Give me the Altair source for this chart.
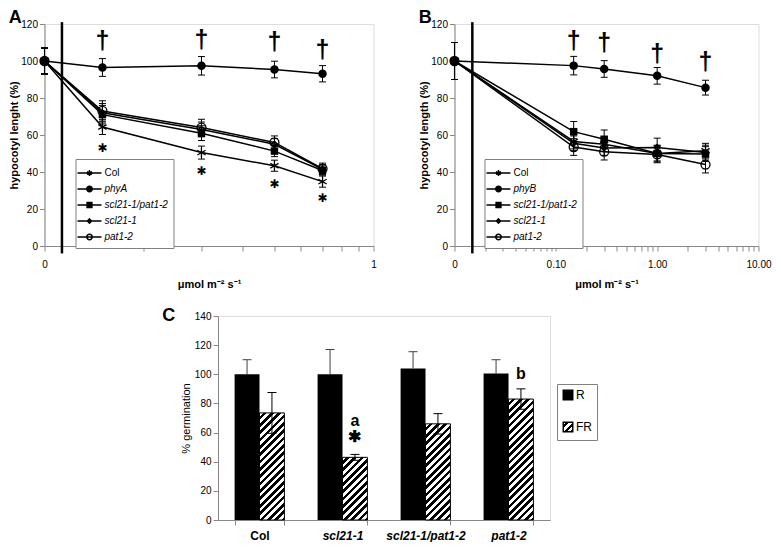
import math
import altair as alt
import pandas as pd

FONT = "Liberation Sans"

# ---------------- Panel A data ----------------
a_series = ["Col", "phyA", "scl21-1/pat1-2", "scl21-1", "pat1-2"]
a_dose = [0.1, 0.15, 0.3, 0.5, 0.7]
a_col = [100, 64.3, 50.5, 43.4, 34.8]
a_phya = [100, 96.5, 97.4, 95.4, 93.1]
a_dbl = [100, 71.0, 61.0, 51.3, 40.8]
a_scl = [100, 72.0, 63.0, 55.0, 41.5]
a_pat = [100, 73.0, 64.0, 56.0, 41.8]
a_col_err = [7, 4, 3.5, 3, 3]
a_phya_err = [7, 4.8, 5, 4.5, 4.4]
a_dbl_err = [7, 5, 4, 3, 2.5]
a_scl_err = [7, 5, 4, 3, 2.5]
a_pat_err = [7, 5.5, 4.5, 3.5, 3]
a_dagger_dose = [0.15, 0.3, 0.5, 0.7]
a_dagger_y = [112.7, 113.0, 112.0, 107.8]
a_star_dose = [0.15, 0.3, 0.5, 0.7]
a_star_y = [53.1, 40.5, 33.7, 26.2]
a_break = [0.113]

# ---------------- Panel B data ----------------
b_series = ["Col", "phyB", "scl21-1/pat1-2", "scl21-1", "pat1-2"]
b_dose = [0.01, 0.15, 0.3, 1.0, 3.0]
b_col = [100, 56.5, 55.0, 50.0, 51.5]
b_phyb = [100, 97.5, 95.7, 92.0, 85.6]
b_dbl = [100, 61.8, 57.7, 50.0, 49.7]
b_scl = [100, 55.5, 53.0, 53.3, 50.5]
b_pat = [100, 53.5, 51.0, 49.5, 44.0]
b_col_err = [10, 4, 4, 4, 4]
b_phyb_err = [10, 5, 4.5, 4.5, 4]
b_dbl_err = [10, 5.5, 5, 4.5, 4]
b_scl_err = [10, 4, 4, 5, 4]
b_pat_err = [10, 4.5, 4.5, 4.5, 4.5]
b_dagger_dose = [0.15, 0.3, 1.0, 3.0]
b_dagger_y = [112.7, 111.2, 105.5, 101.0]
b_break = [0.015]

# ---------------- Panel C data ----------------
c_geno = ["Col", "scl21-1", "scl21-1/pat1-2", "pat1-2"]
c_cond = ["R", "FR"]
c_r = [100, 100, 104, 100.5]
c_r_err = [10, 17, 11.5, 9.5]
c_fr = [73.5, 43, 66, 83]
c_fr_err = [14, 2, 7, 7]
c_ann_geno = ["scl21-1", "scl21-1", "pat1-2"]
c_ann_text = ["a", "✱", "b"]
c_ann_y = [68, 56.7, 100.5]

# ---------------- styling ----------------
ASTER = "M0,-1V1M-0.87,-0.5L0.87,0.5M-0.87,0.5L0.87,-0.5"


def circ(r):
    return f"M{-r},0A{r},{r} 0 1,0 {r},0A{r},{r} 0 1,0 {-r},0Z"


MARK_SHAPES = [ASTER, "circle", "square", "diamond", "circle"]
MARK_SIZES = [90, 72, 56, 36, 81]
MARK_FILLED = [False, True, True, False, False]
LEG_PATHS = [
    "M-1.5,0H1.5M0,-0.36V0.36M-0.31,-0.18L0.31,0.18M-0.31,0.18L0.31,-0.18",
    "M-1.5,0H1.5" + circ(0.34),
    "M-1.5,0H1.5M-0.3,-0.3H0.3V0.3H-0.3Z",
    "M-1.5,0H1.5M0,-0.26L0.26,0L0,0.26L-0.26,0Z",
    "M-1.5,0H1.5" + circ(0.34),
]

A_W, A_H = 329, 222
B_W, B_H = 304, 222
C_W, C_H = 332, 204

UNIT = "μmol m⁻² s⁻¹"


def line_panel(series, dose, means, errs, dag_dose, dag_y, star_dose, star_y,
               brk, xdomain, xvalues, label_expr, ytitle, letter, width, height,
               legend_xy):
    rows = []
    for s, m, e in zip(series, means, errs):
        for d, v, er in zip(dose, m, e):
            rows.append({"series": s, "dose": d, "mean": v, "lo": v - er, "hi": v + er})
    df = pd.DataFrame(rows)

    xaxis = alt.Axis(values=xvalues, labelExpr=label_expr, title=UNIT, grid=False,
                     titleFontWeight="bold", labelPadding=8, titlePadding=9,
                     labelFlush=False, labelOverlap=False)
    yaxis = alt.Axis(values=list(range(0, 121, 20)), title=ytitle, grid=False,
                     titleFontWeight="bold", titlePadding=1, labelOverlap=False)
    yscale = alt.Scale(domain=[0, 120], nice=False)

    def X(field="dose"):
        return alt.X(f"{field}:Q", scale=alt.Scale(type="log", domain=xdomain),
                     axis=xaxis)

    def Y(field="mean"):
        return alt.Y(f"{field}:Q", scale=yscale, axis=yaxis)

    base = alt.Chart(df)
    lines = base.mark_line(color="black", strokeWidth=1.5).encode(
        x=X(), y=Y(), detail="series:N", order="dose:Q")
    brk_layer = alt.Chart(pd.DataFrame({"dose": brk})).mark_rule(
        color="black", strokeWidth=2.5).encode(
        x=X(), y=alt.YDatum(121, scale=yscale, axis=yaxis), y2=alt.Y2Datum(-4))
    ebar = base.mark_rule(color="black", strokeWidth=1).encode(
        x=X(), y=Y("lo"), y2="hi:Q")
    cap_hi = base.mark_tick(color="black", orient="horizontal", size=7,
                            thickness=1, opacity=1).encode(x=X(), y=Y("hi"))
    cap_lo = base.mark_tick(color="black", orient="horizontal", size=7,
                            thickness=1, opacity=1).encode(x=X(), y=Y("lo"))
    pts = []
    for i, s in enumerate(series):
        pts.append(
            base.transform_filter(alt.datum.series == s).mark_point(
                shape=MARK_SHAPES[i], size=MARK_SIZES[i], filled=MARK_FILLED[i],
                color="black", strokeWidth=1.3, opacity=1).encode(x=X(), y=Y()))

    fill_expr = ("(datum.value || datum.series) === 'Col' ? 'transparent' : "
                 "(((datum.value || datum.series) === 'scl21-1' || "
                 "(datum.value || datum.series) === 'pat1-2') ? 'white' : 'black')")
    legend = alt.Legend(
        title=None, orient="none", legendX=legend_xy[0], legendY=legend_xy[1],
        strokeColor="#808080", fillColor="white", padding=5, symbolSize=256,
        labelFontSize=10, labelFont=FONT, labelOffset=6, rowPadding=1,
        labelFontStyle={"expr": "datum.value === 'Col' ? 'normal' : 'italic'"})
    leg_layer = base.mark_point(size=0, opacity=1, stroke="black", strokeWidth=1.5,
                                fill={"expr": fill_expr}).encode(
        x=X(), y=Y(),
        shape=alt.Shape("series:N", scale=alt.Scale(domain=series, range=LEG_PATHS),
                        legend=legend))

    dag = alt.Chart(pd.DataFrame({"dose": dag_dose, "pos": dag_y})).mark_text(
        text="†", fontSize=25, fontWeight="bold", font=FONT, baseline="middle",
        color="black", dy=3).encode(x=X(), y=Y("pos"))
    layers = [lines, brk_layer, ebar, cap_hi, cap_lo] + pts + [leg_layer, dag]
    if star_dose:
        star = alt.Chart(pd.DataFrame({"dose": star_dose, "pos": star_y})).mark_text(
            text="✱", fontSize=12, font="DejaVu Sans", baseline="middle",
            color="black").encode(x=X(), y=Y("pos"))
        layers.append(star)
    return alt.layer(*layers).properties(
        width=width, height=height,
        title=alt.TitleParams(letter, anchor="start", fontSize=18, fontWeight="bold",
                              font=FONT, offset=-8))


A = line_panel(a_series, a_dose,
               [a_col, a_phya, a_dbl, a_scl, a_pat],
               [a_col_err, a_phya_err, a_dbl_err, a_scl_err, a_pat_err],
               a_dagger_dose, a_dagger_y, a_star_dose, a_star_y, a_break,
               [0.1, 1], [0.1, 0.2, 0.3, 0.4, 0.5, 0.6, 0.7, 0.8, 0.9, 1.0],
               "datum.value < 0.101 ? '0' : (datum.value > 0.99 ? '1' : '')",
               "hypocotyl lenght (%)", "A", A_W, A_H, [31, 135])

b_ticks = []
for dec in [0.01, 0.1, 1.0]:
    for k in range(1, 10):
        b_ticks.append(round(dec * k, 4))
b_ticks.append(10.0)
B = line_panel(b_series, b_dose,
               [b_col, b_phyb, b_dbl, b_scl, b_pat],
               [b_col_err, b_phyb_err, b_dbl_err, b_scl_err, b_pat_err],
               b_dagger_dose, b_dagger_y, [], [], b_break,
               [0.01, 10], b_ticks,
               "datum.value < 0.0101 ? '0' : (abs(datum.value-0.1)<0.001 ? '0.10' : "
               "(abs(datum.value-1)<0.001 ? '1.00' : (datum.value > 9.9 ? '10.00' : '')))",
               "hypocotyl length (%)", "B", B_W, B_H, [30, 135])

# ---------------- Panel C ----------------
df_c = pd.DataFrame({
    "genotype": c_geno + c_geno,
    "cond": ["R"] * len(c_geno) + ["FR"] * len(c_geno),
    "mean": c_r + c_fr,
    "err": c_r_err + c_fr_err,
})
df_c["lo"] = df_c["mean"] - df_c["err"]
df_c["hi"] = df_c["mean"] + df_c["err"]

PI, PO = 0.4, 0.2
step = C_W / (len(c_geno) - PI + 2 * PO)
bar_w = step * (1 - PI) / 2


def hatch(w, h, period=5.2):
    gx, gy = 1.0 / h, 1.0 / w
    s = (gx + gy) / (gx * gx + gy * gy)
    L = (w + h) / math.sqrt(2)
    n = L / period
    stops = []
    k = 0
    while k / n <= 1:
        a, b, c = k / n, (k + 0.5) / n, (k + 1) / n
        stops.append({"offset": a, "color": "white"})
        stops.append({"offset": min(b, 1), "color": "white"})
        if b < 1:
            stops.append({"offset": b, "color": "black"})
            stops.append({"offset": min(c, 1), "color": "black"})
        k += 1
    return {"gradient": "linear", "x1": 0, "y1": 0, "x2": s * gx, "y2": s * gy,
            "stops": stops}


cx = alt.X("genotype:N", sort=c_geno,
           scale=alt.Scale(domain=c_geno, paddingInner=PI, paddingOuter=PO),
           axis=alt.Axis(title=None, labelAngle=0, tickBand="extent", grid=False,
                         labelFontWeight="bold", labelFontSize=12, labelPadding=5,
                         labelFontStyle={"condition": {"test": "datum.value === 'Col'",
                                                       "value": "normal"},
                                         "value": "italic"}))
cxo = alt.XOffset("cond:N", scale=alt.Scale(domain=c_cond, paddingInner=0, paddingOuter=0))


def CY(field="mean"):
    return alt.Y(f"{field}:Q", scale=alt.Scale(domain=[0, 140], nice=False),
                 axis=alt.Axis(values=list(range(0, 141, 20)), title="% germination",
                               grid=False, labelOverlap=False,
                               titleFontWeight="normal", titlePadding=3))


cbase = alt.Chart(df_c)
r_bars = cbase.transform_filter(alt.datum.cond == "R").mark_bar(
    color="black").encode(x=cx, xOffset=cxo, y=CY())
fr_bars = []
for g, v in zip(c_geno, c_fr):
    h = v / 140 * C_H
    fr_bars.append(
        cbase.transform_filter((alt.datum.cond == "FR") & (alt.datum.genotype == g))
        .mark_bar(fill=hatch(bar_w, h), stroke="black", strokeWidth=1)
        .encode(x=cx, xOffset=cxo, y=CY()))
c_err_r = cbase.transform_filter(alt.datum.cond == "R").mark_rule(
    color="#404040", strokeWidth=1).encode(x=cx, xOffset=cxo, y=CY("mean"), y2="hi:Q")
c_cap_r = cbase.transform_filter(alt.datum.cond == "R").mark_tick(
    color="#404040", orient="horizontal", size=9, thickness=1, opacity=1).encode(
    x=cx, xOffset=cxo, y=CY("hi"))
c_err_fr = cbase.transform_filter(alt.datum.cond == "FR").mark_rule(
    color="black", strokeWidth=1).encode(x=cx, xOffset=cxo, y=CY("lo"), y2="hi:Q")
c_cap_fr = cbase.transform_filter(alt.datum.cond == "FR").mark_tick(
    color="black", orient="horizontal", size=9, thickness=1, opacity=1).encode(
    x=cx, xOffset=cxo, y=CY("hi"))
c_cap_fr_lo = cbase.transform_filter(alt.datum.cond == "FR").mark_tick(
    color="black", orient="horizontal", size=9, thickness=1, opacity=1).encode(
    x=cx, xOffset=cxo, y=CY("lo"))

ann_df = pd.DataFrame({"genotype": c_ann_geno, "cond": ["FR"] * len(c_ann_geno),
                       "pos": c_ann_y, "label": c_ann_text})
c_ann = alt.Chart(ann_df).mark_text(fontSize=16, fontWeight="bold", font=FONT,
                                    baseline="middle", color="black").encode(
    x=cx, xOffset=cxo, y=CY("pos"), text="label:N")

leg_stops = ("[{offset:0,color:'white'},{offset:0.17,color:'white'},"
             "{offset:0.17,color:'black'},{offset:0.33,color:'black'},"
             "{offset:0.33,color:'white'},{offset:0.5,color:'white'},"
             "{offset:0.5,color:'black'},{offset:0.67,color:'black'},"
             "{offset:0.67,color:'white'},{offset:0.83,color:'white'},"
             "{offset:0.83,color:'black'},{offset:1,color:'black'}]")
c_fill_expr = ("(datum.value || datum.cond) === 'FR' ? "
               "{gradient:'linear',x1:0,y1:0,x2:1,y2:1,stops:" + leg_stops + "} : 'black'")
c_legend = alt.Legend(
    title=None, orient="none", legendX=C_W + 7, legendY=68, strokeColor="#808080",
    fillColor="white", padding=5, symbolSize=90, labelFontSize=12, labelFont=FONT,
    labelOffset=2, rowPadding=16)
c_leg_layer = cbase.mark_point(size=0, opacity=1, stroke="black", strokeWidth=1,
                               fill={"expr": c_fill_expr}).encode(
    x=cx, xOffset=cxo, y=CY(),
    shape=alt.Shape("cond:N", scale=alt.Scale(domain=c_cond, range=["square", "square"]),
                    legend=c_legend))

C = alt.layer(r_bars, *fr_bars, c_err_r, c_cap_r, c_err_fr, c_cap_fr, c_cap_fr_lo,
              c_ann, c_leg_layer).properties(
    width=C_W, height=C_H,
    title=alt.TitleParams("C", anchor="start", fontSize=18, fontWeight="bold",
                          font=FONT, offset=-14, dx=-18))

top = alt.hconcat(A, B, spacing=40).resolve_scale(shape="independent")
chart = alt.vconcat(top, C, spacing=16, center=True).resolve_scale(
    shape="independent").properties(padding=0).configure_view(
    stroke=None).configure_axis(
    grid=False, labelFont=FONT, titleFont=FONT, labelFontSize=11, titleFontSize=11,
    labelColor="black", titleColor="black", domainColor="black", tickColor="black",
    tickSize=4, domainWidth=1,
).configure(font=FONT)

chart.save("out.html", embed_options={"renderer": "svg", "actions": False})
